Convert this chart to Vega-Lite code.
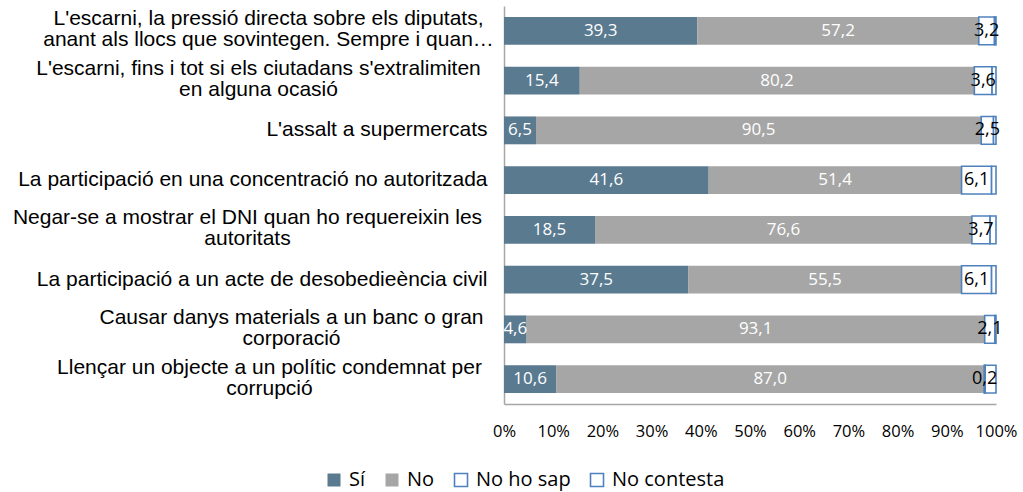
{
  "$schema": "https://vega.github.io/schema/vega-lite/v6.json",
  "width": 492,
  "height": 398,
  "autosize": {"type": "none"},
  "padding": {"left": 504, "top": 6, "right": 27, "bottom": 88},
  "background": "white",
  "config": {"view": {"stroke": null}},
  "data": {
    "values": [
      {"cat": "L'escarni, la pressió directa sobre els diputats,|anant als llocs que sovintegen. Sempre i quan…", "serie": "Sí", "ord": 1, "value": 39.3},
      {"cat": "L'escarni, la pressió directa sobre els diputats,|anant als llocs que sovintegen. Sempre i quan…", "serie": "No", "ord": 2, "value": 57.2},
      {"cat": "L'escarni, la pressió directa sobre els diputats,|anant als llocs que sovintegen. Sempre i quan…", "serie": "No ho sap", "ord": 3, "value": 3.2},
      {"cat": "L'escarni, la pressió directa sobre els diputats,|anant als llocs que sovintegen. Sempre i quan…", "serie": "No contesta", "ord": 4, "value": 0.3},
      {"cat": "L'escarni, fins i tot si els ciutadans s'extralimiten|en alguna ocasió", "serie": "Sí", "ord": 1, "value": 15.4},
      {"cat": "L'escarni, fins i tot si els ciutadans s'extralimiten|en alguna ocasió", "serie": "No", "ord": 2, "value": 80.2},
      {"cat": "L'escarni, fins i tot si els ciutadans s'extralimiten|en alguna ocasió", "serie": "No ho sap", "ord": 3, "value": 3.6},
      {"cat": "L'escarni, fins i tot si els ciutadans s'extralimiten|en alguna ocasió", "serie": "No contesta", "ord": 4, "value": 0.8},
      {"cat": "L'assalt a supermercats", "serie": "Sí", "ord": 1, "value": 6.5},
      {"cat": "L'assalt a supermercats", "serie": "No", "ord": 2, "value": 90.5},
      {"cat": "L'assalt a supermercats", "serie": "No ho sap", "ord": 3, "value": 2.5},
      {"cat": "L'assalt a supermercats", "serie": "No contesta", "ord": 4, "value": 0.5},
      {"cat": "La participació en una concentració no autoritzada", "serie": "Sí", "ord": 1, "value": 41.6},
      {"cat": "La participació en una concentració no autoritzada", "serie": "No", "ord": 2, "value": 51.4},
      {"cat": "La participació en una concentració no autoritzada", "serie": "No ho sap", "ord": 3, "value": 6.1},
      {"cat": "La participació en una concentració no autoritzada", "serie": "No contesta", "ord": 4, "value": 0.9},
      {"cat": "Negar-se a mostrar el DNI quan ho requereixin les|autoritats", "serie": "Sí", "ord": 1, "value": 18.5},
      {"cat": "Negar-se a mostrar el DNI quan ho requereixin les|autoritats", "serie": "No", "ord": 2, "value": 76.6},
      {"cat": "Negar-se a mostrar el DNI quan ho requereixin les|autoritats", "serie": "No ho sap", "ord": 3, "value": 3.7},
      {"cat": "Negar-se a mostrar el DNI quan ho requereixin les|autoritats", "serie": "No contesta", "ord": 4, "value": 1.2},
      {"cat": "La participació a un acte de desobedieència civil", "serie": "Sí", "ord": 1, "value": 37.5},
      {"cat": "La participació a un acte de desobedieència civil", "serie": "No", "ord": 2, "value": 55.5},
      {"cat": "La participació a un acte de desobedieència civil", "serie": "No ho sap", "ord": 3, "value": 6.1},
      {"cat": "La participació a un acte de desobedieència civil", "serie": "No contesta", "ord": 4, "value": 0.9},
      {"cat": "Causar danys materials a un banc o gran|corporació", "serie": "Sí", "ord": 1, "value": 4.6},
      {"cat": "Causar danys materials a un banc o gran|corporació", "serie": "No", "ord": 2, "value": 93.1},
      {"cat": "Causar danys materials a un banc o gran|corporació", "serie": "No ho sap", "ord": 3, "value": 2.1},
      {"cat": "Causar danys materials a un banc o gran|corporació", "serie": "No contesta", "ord": 4, "value": 0.2},
      {"cat": "Llençar un objecte a un polític condemnat per|corrupció", "serie": "Sí", "ord": 1, "value": 10.6},
      {"cat": "Llençar un objecte a un polític condemnat per|corrupció", "serie": "No", "ord": 2, "value": 87.0},
      {"cat": "Llençar un objecte a un polític condemnat per|corrupció", "serie": "No ho sap", "ord": 3, "value": 0.2},
      {"cat": "Llençar un objecte a un polític condemnat per|corrupció", "serie": "No contesta", "ord": 4, "value": 2.2}
    ]
  },
  "transform": [
    {"stack": "value", "groupby": ["cat"], "sort": [{"field": "ord", "order": "ascending"}], "as": ["v0", "v1"]},
    {"calculate": "(datum.v0 + datum.v1) / 2", "as": "mid"},
    {"calculate": "replace(format(datum.value, '.1f'), '.', ',')", "as": "lbl"}
  ],
  "encoding": {
    "y": {
      "field": "cat",
      "type": "nominal",
      "sort": null,
      "scale": {"paddingInner": 0.44, "paddingOuter": 0.22},
      "axis": {
        "title": null,
        "ticks": false,
        "domainColor": "#A6A6A6",
        "domainWidth": 1.5,
        "labelExpr": "split(datum.label, '|')",
        "labelFont": "Liberation Sans",
        "labelFontSize": 21,
        "labelColor": "#000000",
        "labelLineHeight": 21,
        "labelLimit": 0,
        "labelAlign": {"condition": {"test": "indexof(datum.value, '|') >= 0", "value": "center"}, "value": "right"},
        "labelOffset": {"condition": {"test": "indexof(datum.value, '|') >= 0", "value": -11.5}, "value": 0},
        "labelPadding": {
          "condition": [
            {"test": "indexof(datum.value, 'diputats') >= 0", "value": 236},
            {"test": "indexof(datum.value, 'extralimiten') >= 0", "value": 246},
            {"test": "indexof(datum.value, 'DNI') >= 0", "value": 257},
            {"test": "indexof(datum.value, 'danys') >= 0", "value": 213},
            {"test": "indexof(datum.value, 'objecte') >= 0", "value": 235}
          ],
          "value": 17
        }
      }
    }
  },
  "layer": [
    {
      "mark": {"type": "bar", "strokeWidth": 1.6},
      "encoding": {
        "x": {
          "field": "v0",
          "type": "quantitative",
          "scale": {"domain": [0, 100], "nice": false},
          "axis": {
            "title": null,
            "values": [0, 10, 20, 30, 40, 50, 60, 70, 80, 90, 100],
            "labelExpr": "datum.value + '%'",
            "labelOverlap": false,
            "labelFlush": false,
            "grid": false,
            "ticks": false,
            "domainColor": "#A6A6A6",
            "domainWidth": 1.5,
            "labelFont": "Open Sans",
            "labelFontSize": 16.5,
            "labelColor": "#000000",
            "labelPadding": 19
          }
        },
        "x2": {"field": "v1"},
        "fill": {
          "field": "serie",
          "type": "nominal",
          "sort": ["Sí", "No", "No ho sap", "No contesta"],
          "scale": {"domain": ["Sí", "No", "No ho sap", "No contesta"], "range": ["#5A7A90", "#A6A6A6", "#FFFFFF", "#FFFFFF"]},
          "legend": {
            "title": null,
            "orient": "none",
            "direction": "horizontal",
            "legendX": -180,
            "legendY": 464,
            "symbolType": "square",
            "symbolSize": 169,
            "symbolStrokeWidth": 1.6,
            "labelFont": "Open Sans",
            "labelFontSize": 20,
            "labelColor": "#000000",
            "columnPadding": 16,
            "labelOffset": 5
          }
        },
        "stroke": {
          "field": "serie",
          "type": "nominal",
          "sort": ["Sí", "No", "No ho sap", "No contesta"],
          "scale": {"domain": ["Sí", "No", "No ho sap", "No contesta"], "range": ["transparent", "transparent", "#4F81BD", "#4F81BD"]},
          "legend": {
            "title": null,
            "orient": "none",
            "direction": "horizontal",
            "legendX": -180,
            "legendY": 464,
            "symbolType": "square",
            "symbolSize": 169,
            "symbolStrokeWidth": 1.6,
            "labelFont": "Open Sans",
            "labelFontSize": 20,
            "labelColor": "#000000",
            "columnPadding": 16,
            "labelOffset": 5
          }
        }
      }
    },
    {
      "transform": [{"filter": "datum.serie == 'Sí' || datum.serie == 'No'"}],
      "mark": {"type": "text", "font": "Open Sans", "fontSize": 17, "color": "#FFFFFF", "align": "center", "baseline": "middle"},
      "encoding": {
        "x": {"field": "mid", "type": "quantitative"},
        "text": {"field": "lbl"}
      }
    },
    {
      "transform": [{"filter": "datum.serie == 'No ho sap'"}],
      "mark": {"type": "text", "font": "Open Sans", "fontSize": 18, "color": "#000000", "align": "center", "baseline": "middle"},
      "encoding": {
        "x": {"field": "mid", "type": "quantitative"},
        "text": {"field": "lbl"}
      }
    }
  ]
}
